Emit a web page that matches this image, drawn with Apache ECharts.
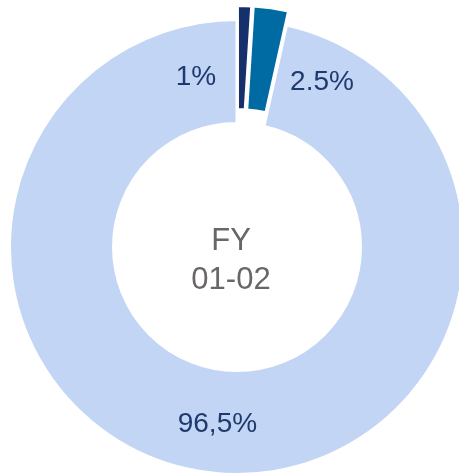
<!DOCTYPE html>
<html>
<head>
<meta charset="utf-8">
<script src="https://cdn.jsdelivr.net/npm/echarts@6/dist/echarts.min.js"></script>
<style>
  html, body { margin: 0; padding: 0; background: #fff; }
  #chart { width: 459px; height: 474px; }
</style>
</head>
<body>
<div id="chart"></div>
<script>
var names = ['A', 'B', 'C'];
var values = [1, 2.5, 96.5];
var labels = ['1%', '2.5%', '96,5%'];
var colors = ['#15306a', '#006aa3', '#c3d5f4'];
var exploded = [true, true, false];
var centerLines = ['FY', '01-02'];

// the two thin slices have their labels beside them on the ring
var sideLabelSpots = [[196, 77], [322, 82]];

var labelColor = '#1f3a6e';
var labelFont = '28px "Liberation Sans"';

var chart = echarts.init(document.getElementById('chart'));

var pieData = [];
for (var i = 0; i < values.length; i++) {
    pieData.push({
        name: names[i],
        value: values[i],
        selected: exploded[i],
        itemStyle: { color: colors[i] },
        label: { show: !exploded[i], formatter: labels[i] }
    });
}

var texts = [];
for (var j = 0; j < sideLabelSpots.length; j++) {
    texts.push({
        type: 'text',
        x: sideLabelSpots[j][0],
        y: sideLabelSpots[j][1],
        z: 100,
        silent: true,
        style: {
            text: labels[j],
            align: 'center',
            verticalAlign: 'middle',
            fill: labelColor,
            font: labelFont
        }
    });
}
texts.push({
    type: 'text',
    x: 231,
    y: 241,
    z: 100,
    silent: true,
    style: {
        text: centerLines[0],
        align: 'center',
        verticalAlign: 'middle',
        fill: '#6a6666',
        font: '31px "Liberation Sans"'
    }
});
texts.push({
    type: 'text',
    x: 231,
    y: 280,
    z: 100,
    silent: true,
    style: {
        text: centerLines[1],
        align: 'center',
        verticalAlign: 'middle',
        fill: '#6a6666',
        font: '31px "Liberation Sans"'
    }
});

chart.setOption({
    animation: false,
    series: [{
        type: 'pie',
        center: [237, 247],
        radius: [123.5, 227.5],
        startAngle: 90,
        clockwise: true,
        selectedMode: 'multiple',
        selectedOffset: 14,
        avoidLabelOverlap: false,
        silent: true,
        itemStyle: {
            borderColor: '#ffffff',
            borderWidth: 3
        },
        label: {
            position: 'inside',
            color: labelColor,
            fontSize: 28,
            fontFamily: 'Liberation Sans'
        },
        labelLine: { show: false },
        emphasis: { disabled: true },
        data: pieData
    }],
    graphic: texts
});
</script>
</body>
</html>
